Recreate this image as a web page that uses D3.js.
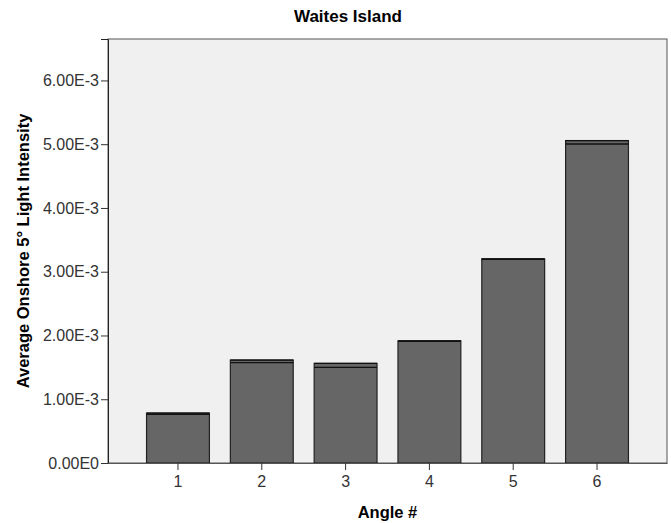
<!DOCTYPE html>
<html>
<head>
<meta charset="utf-8">
<script src="https://cdn.jsdelivr.net/npm/d3@7"></script>
<style>
  body { margin: 0; background: #fff; }
  text { font-family: "Liberation Sans", Arial, sans-serif; }
</style>
</head>
<body>
<svg id="chart" width="671" height="523"></svg>
<script>
// data
const angles = ["1", "2", "3", "4", "5", "6"];
const meanIntensity = [0.000773, 0.001594, 0.001531, 0.001912, 0.003197, 0.005030];
const errIntensity = [0.000010, 0.000021, 0.000031, 0.000004, 0.000004, 0.000027];
const yTicks = [0, 0.001, 0.002, 0.003, 0.004, 0.005, 0.006];
const yTickLabels = ["0.00E0", "1.00E-3", "2.00E-3", "3.00E-3", "4.00E-3", "5.00E-3", "6.00E-3"];

const svg = d3.select("#chart");
const plotLeft = 108, plotRight = 667, plotTop = 39, plotBottom = 463;
const fontFam = "'Liberation Sans', Arial, sans-serif";

const x = d3.scaleBand()
    .domain(angles)
    .range([plotLeft, plotRight])
    .paddingInner(0.25)
    .paddingOuter(0.46);

const y = d3.scaleLinear()
    .domain([0, 0.00665])
    .range([plotBottom, plotTop]);

// plot background
svg.append("rect")
    .attr("x", plotLeft).attr("y", plotTop)
    .attr("width", plotRight - plotLeft).attr("height", plotBottom - plotTop)
    .attr("fill", "#f0f0f0")
    .attr("stroke", "#555")
    .attr("stroke-width", 1);

// bars
svg.append("g").selectAll("rect")
  .data(angles)
  .join("rect")
    .attr("x", d => x(d))
    .attr("width", x.bandwidth())
    .attr("y", (d, i) => y(meanIntensity[i] + errIntensity[i]))
    .attr("height", (d, i) => plotBottom - y(meanIntensity[i] + errIntensity[i]))
    .attr("fill", "#666666")
    .attr("stroke", "#222")
    .attr("stroke-width", 1.2);

// error caps
const errG = svg.append("g");
angles.forEach((d, i) => {
  [meanIntensity[i] - errIntensity[i], meanIntensity[i] + errIntensity[i]].forEach(v => {
    errG.append("line")
        .attr("x1", x(d)).attr("x2", x(d) + x.bandwidth())
        .attr("y1", y(v)).attr("y2", y(v))
        .attr("stroke", "#111")
        .attr("stroke-width", 1.3);
  });
});

// y axis
const yAxis = svg.append("g")
    .attr("transform", `translate(${plotLeft},0)`)
    .call(d3.axisLeft(y).tickValues(yTicks).tickSize(7).tickPadding(2)
      .tickFormat((d, i) => yTickLabels[i]));
yAxis.select(".domain").attr("stroke", "#222");
yAxis.selectAll(".tick line").attr("stroke", "#333");
yAxis.selectAll("text")
    .attr("fill", "#333")
    .style("font-size", "16px")
    .style("font-family", fontFam);

// x axis
const xAxis = svg.append("g")
    .attr("transform", `translate(0,${plotBottom})`)
    .call(d3.axisBottom(x).tickSize(7).tickPadding(6).tickSizeOuter(0));
xAxis.select(".domain").attr("stroke", "#555");
xAxis.selectAll(".tick line").attr("stroke", "#333");
xAxis.selectAll("text")
    .attr("fill", "#333")
    .style("font-size", "16px")
    .style("font-family", fontFam);

// titles
svg.append("text")
    .attr("x", 348).attr("y", 22)
    .attr("text-anchor", "middle")
    .attr("font-weight", "bold").attr("font-size", 17)
    .text("Waites Island");

svg.append("text")
    .attr("x", (plotLeft + plotRight) / 2).attr("y", 518)
    .attr("text-anchor", "middle")
    .attr("font-weight", "bold").attr("font-size", 16.5)
    .text("Angle #");

svg.append("text")
    .attr("transform", `translate(29,251) rotate(-90)`)
    .attr("text-anchor", "middle")
    .attr("font-weight", "bold").attr("font-size", 16.5)
    .text("Average Onshore 5° Light Intensity");
</script>
</body>
</html>
